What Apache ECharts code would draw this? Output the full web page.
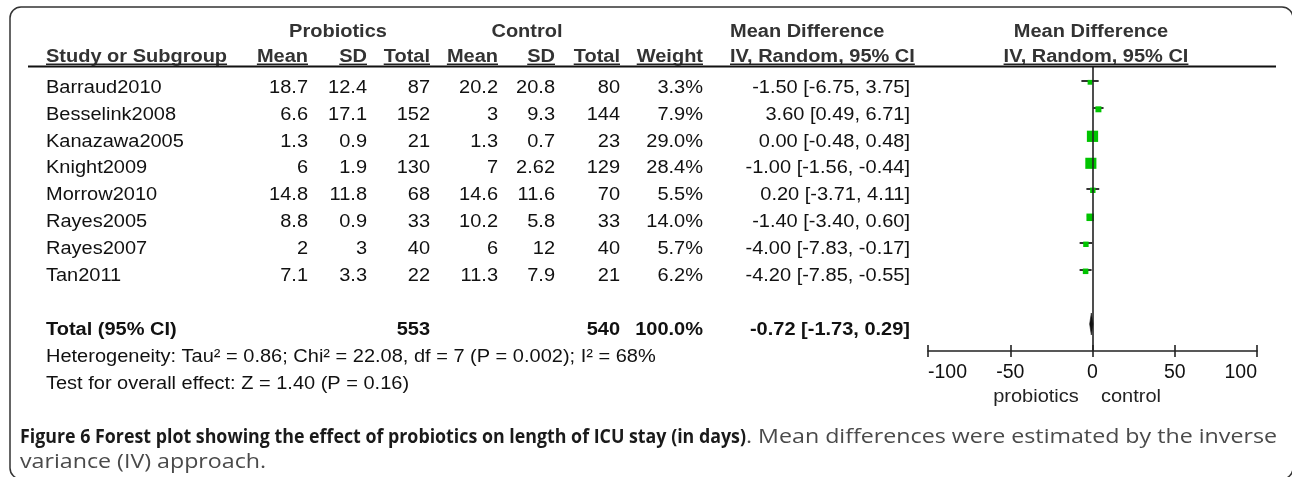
<!DOCTYPE html>
<html><head><meta charset="utf-8">
<script src="https://cdn.jsdelivr.net/npm/echarts@6/dist/echarts.min.js"></script>
<style>html,body{margin:0;padding:0;background:#fff}#c{width:1292px;height:477px}</style>
</head><body><div id="c"></div>
<script>
// ---- data ----
const studies = ['Barraud2010','Besselink2008','Kanazawa2005','Knight2009','Morrow2010','Rayes2005','Rayes2007','Tan2011'];
const probMean = [18.7, 6.6, 1.3, 6, 14.8, 8.8, 2, 7.1];
const probSD   = [12.4, 17.1, 0.9, 1.9, 11.8, 0.9, 3, 3.3];
const probN    = [87, 152, 21, 130, 68, 33, 40, 22];
const ctrlMean = [20.2, 3, 1.3, 7, 14.6, 10.2, 6, 11.3];
const ctrlSD   = [20.8, 9.3, 0.7, 2.62, 11.6, 5.8, 12, 7.9];
const ctrlN    = [80, 144, 23, 129, 70, 33, 40, 21];
const weight   = [3.3, 7.9, 29.0, 28.4, 5.5, 14.0, 5.7, 6.2];
const md       = [-1.50, 3.60, 0.00, -1.00, 0.20, -1.40, -4.00, -4.20];
const ciLo     = [-6.75, 0.49, -0.48, -1.56, -3.71, -3.40, -7.83, -7.85];
const ciHi     = [3.75, 6.71, 0.48, -0.44, 4.11, 0.60, -0.17, -0.55];
const totalProbN = 553, totalCtrlN = 540, totalWeight = 100.0;
const totalMd = -0.72, totalLo = -1.73, totalHi = 0.29;
const totalRow = 9;
const xTicks = [-100, -50, 0, 50, 100];
const heterogeneity = 'Heterogeneity: Tau\u00B2 = 0.86; Chi\u00B2 = 22.08, df = 7 (P = 0.002); I\u00B2 = 68%';
const overallTest = 'Test for overall effect: Z = 1.40 (P = 0.16)';
const favourLeft = 'probiotics', favourRight = 'control';
const captionBold = 'Figure 6 Forest plot showing the effect of probiotics on length of ICU stay (in days)';
const captionReg1 = '. Mean differences were estimated by the inverse';
const captionReg2 = 'variance (IV) approach.';

// ---- layout / style ----
const FONT = '"Liberation Sans", Arial, sans-serif';
const FS = 18.7, SX = 1.07;
const rowY = i => 87.5 + 26.95 * i;
const cv = document.createElement('canvas').getContext('2d');
function mw(font, s) { cv.font = font; return cv.measureText(s).width; }
const fontOf = (bold, size) => (bold ? 'bold ' : '') + (size || FS) + 'px ' + FONT;

const G = [];
function txt(str, x, y, align, bold, color, sx) {
  G.push({type:'text', x:x, y:y, scaleX: sx || SX, silent:true, z:10,
    style:{text:String(str), fill: color || '#111', font: fontOf(bold),
      align: align, textAlign: align, verticalAlign:'middle', textVerticalAlign:'middle'}});
}
function underline(str, x, align) {
  const w = mw(fontOf(true), str) * SX;
  let x1 = x;
  if (align === 'right') x1 = x - w; else if (align === 'center') x1 = x - w / 2;
  G.push({type:'line', silent:true, z:10, shape:{x1:x1, y1:64.3, x2:x1 + w, y2:64.3}, style:{stroke:'#222', lineWidth:1.4}});
}
const fmt2 = v => v.toFixed(2);

// frame + header rule
G.push({type:'rect', silent:true, shape:{x:10, y:7, width:1283, height:472, r:11}, style:{fill:'none', stroke:'#333', lineWidth:1.5}});
G.push({type:'line', silent:true, z:10, shape:{x1:28, y1:66.5, x2:1276, y2:66.5}, style:{stroke:'#111', lineWidth:2}});

// header
const HC = '#333';
txt('Probiotics', 338, 31.7, 'center', true, HC);
txt('Control', 527, 31.7, 'center', true, HC);
txt('Mean Difference', 730, 31.7, 'left', true, HC);
txt('Mean Difference', 1091, 31.7, 'center', true, HC);
const head2 = [
  ['Study or Subgroup', 46, 'left'], ['Mean', 308, 'right'], ['SD', 367, 'right'], ['Total', 430, 'right'],
  ['Mean', 498, 'right'], ['SD', 555, 'right'], ['Total', 620, 'right'], ['Weight', 703, 'right'],
  ['IV, Random, 95% CI', 730, 'left'], ['IV, Random, 95% CI', 1096, 'center']
];
head2.forEach(h => { txt(h[0], h[1], 56.7, h[2], true, HC); underline(h[0], h[1], h[2]); });

// study rows
studies.forEach((s, i) => {
  const y = rowY(i);
  txt(s, 46, y, 'left');
  txt(probMean[i], 308, y, 'right');
  txt(probSD[i], 367, y, 'right');
  txt(probN[i], 430, y, 'right');
  txt(ctrlMean[i], 498, y, 'right');
  txt(ctrlSD[i], 555, y, 'right');
  txt(ctrlN[i], 620, y, 'right');
  txt(weight[i].toFixed(1) + '%', 703, y, 'right');
  txt(fmt2(md[i]) + ' [' + fmt2(ciLo[i]) + ', ' + fmt2(ciHi[i]) + ']', 910, y, 'right');
});
// total
const ty = rowY(totalRow);
txt('Total (95% CI)', 46, ty, 'left', true);
txt(totalProbN, 430, ty, 'right', true);
txt(totalCtrlN, 620, ty, 'right', true);
txt(totalWeight.toFixed(1) + '%', 703, ty, 'right', true);
txt(fmt2(totalMd) + ' [' + fmt2(totalLo) + ', ' + fmt2(totalHi) + ']', 910, ty, 'right', true);
txt(heterogeneity, 46, rowY(10), 'left');
txt(overallTest, 46, rowY(11), 'left');
txt(favourLeft, 1036, 397, 'center', false, '#222');
txt(favourRight, 1131, 397, 'center', false, '#222');

// caption (condensed look: larger font squeezed horizontally)
const CF = '"Open Sans", "Noto Sans", sans-serif', CFS = 20;
const fB = 'bold ' + CFS + 'px ' + CF, fR = CFS + 'px ' + CF;
const sB = (746 - 20) / mw(fB, captionBold);
const sR = (1277 - 746) / mw(fR, captionReg1);
function ctext(str, x, y, font, color, sx) {
  G.push({type:'text', x:x, y:y, scaleX:sx, silent:true, z:10,
    style:{text:str, fill:color, font:font, align:'left', textAlign:'left', verticalAlign:'middle', textVerticalAlign:'middle'}});
}
ctext(captionBold, 20, 437, fB, '#1a1a1a', sB);
ctext(captionReg1, 746, 437, fR, '#4a4a4a', sR);
ctext(captionReg2, 20, 462, fR, '#4a4a4a', sR);

// ---- chart ----
const chart = echarts.init(document.getElementById('c'));
const LC = '#222';
chart.setOption({
  animation: false,
  backgroundColor: '#fff',
  grid: {left: 928, width: 329, top: 67, height: 284, containLabel: false},
  xAxis: [
    {type:'value', min:-100, max:100, interval:50, position:'bottom',
     axisLine:{show:true, onZero:false, lineStyle:{color:LC, width:1.6}},
     axisTick:{show:true, inside:true, length:6, lineStyle:{color:LC, width:1.6}},
     axisLabel:{show:false}, splitLine:{show:false}},
    {type:'value', min:-100, max:100, interval:50, position:'bottom', offset:0,
     axisLine:{show:false, onZero:false},
     axisTick:{show:true, inside:false, length:6, lineStyle:{color:LC, width:1.6}},
     axisLabel:{show:true, color:'#111', fontSize:19.5, fontFamily:'Liberation Sans', margin:12,
       alignMinLabel:'left', alignMaxLabel:'right', formatter: v => String(v)},
     splitLine:{show:false}}
  ],
  yAxis: {type:'value', inverse:true, min:-14/27, max:10, show:false},
  graphic: {elements: G},
  series: [
    {type:'custom', xAxisIndex:0, yAxisIndex:0, z:3,
     data: ciLo.map((l, i) => [l, ciHi[i], i]),
     encode:{x:[0,1], y:2},
     renderItem: (p, api) => {
       const a = api.coord([api.value(0), api.value(2)]);
       const b = api.coord([api.value(1), api.value(2)]);
       return {type:'line', shape:{x1:a[0], y1:a[1], x2:b[0], y2:b[1]}, style:{stroke:'#333', lineWidth:2}};
     }},
    {type:'scatter', xAxisIndex:0, yAxisIndex:0, z:4,
     data: md.map((m, i) => [m, i]),
     symbol:'rect', symbolOffset:[0, 1.3],
     symbolSize: (v, p) => 4 + 0.25 * weight[p.dataIndex],
     itemStyle:{color:'#00c400', opacity:1},
     markLine:{silent:true, symbol:['none','none'], label:{show:false},
       lineStyle:{color:LC, width:1.6, type:'solid'}, data:[{xAxis:0}]}},
    {type:'custom', xAxisIndex:0, yAxisIndex:0, z:5,
     data: [[totalLo, totalMd, totalHi, totalRow]],
     encode:{x:[0,1,2], y:3},
     renderItem: (p, api) => {
       const l = api.coord([api.value(0), api.value(3)]);
       const m = api.coord([api.value(1), api.value(3)]);
       const h = api.coord([api.value(2), api.value(3)]);
       const hh = 11;
       return {type:'polygon', shape:{points:[[l[0], l[1]], [m[0], m[1] - hh], [h[0], h[1]], [m[0], m[1] + hh]]},
         style:{fill:'#111', stroke:'#111', lineWidth:0.6}};
     }}
  ]
});
</script></body></html>
